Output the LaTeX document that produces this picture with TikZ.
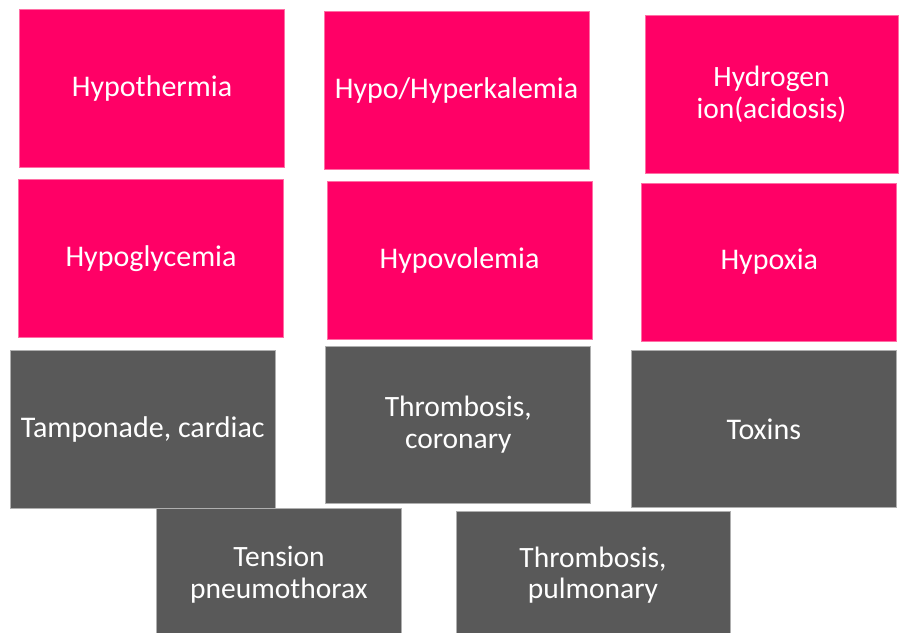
\documentclass[tikz,border=0pt]{standalone}
\usepackage{fontspec}
\setmainfont{Carlito}
\usepackage{tikz}
\usetikzlibrary{positioning}
\definecolor{HtPink}{RGB}{255,0,102}
\definecolor{HtPinkEdge}{RGB}{255,110,165}
\definecolor{HtGray}{RGB}{89,89,89}
\definecolor{HtGrayEdge}{RGB}{175,175,175}
\tikzset{
  ht/box/.style={
    rectangle,
    line width=1pt,
    align=center,
    text=white,
    outer sep=0pt,
    minimum width=265pt,
    minimum height=157.5pt,
    font=\fontsize{30}{36}\selectfont
  },
  ht/pink/.style={ht/box, draw=HtPinkEdge, fill=HtPink},
  ht/gray/.style={ht/box, draw=HtGrayEdge, fill=HtGray},
  ht/twoline/.style={font=\fontsize{29.5}{31.5}\selectfont}
}
\begin{document}
\begin{tikzpicture}[x=1pt,y=-1pt]
  \useasboundingbox (0,0) rectangle (899,632);
  % the H's
  \node[ht/pink] (hypothermia) at (152,88.3) {Hypothermia};
  \node[ht/pink] (kalemia) at (456.5,90.3) {Hypo/Hyperkalemia};
  \node[ht/pink,ht/twoline,minimum width=253pt] (hydrogen) at (771.5,94.3) {Hydrogen\\ion(acidosis)};
  \node[ht/pink] (glycemia) at (151,258.5) {Hypoglycemia};
  \node[ht/pink] (volemia) at (459.5,260.3) {Hypovolemia};
  \node[ht/pink,minimum width=255pt,minimum height=158pt] (hypoxia) at (769.3,262) {Hypoxia};
  % the T's
  \node[ht/gray,minimum height=158pt] (tamponade) at (142.7,429.3) {Tamponade, cardiac};
  \node[ht/gray,ht/twoline] (coronary) at (458.3,424.8) {Thrombosis,\\coronary};
  \node[ht/gray] (toxins) at (763.8,429.2) {Toxins};
  \node[ht/gray,ht/twoline,minimum width=245.4pt,minimum height=132pt] (tension) at (279,574.7) {Tension\\pneumothorax};
  \node[ht/gray,ht/twoline,minimum width=274pt,minimum height=128pt] (pulmonary) at (593,575) {Thrombosis,\\pulmonary};
\end{tikzpicture}
\end{document}
